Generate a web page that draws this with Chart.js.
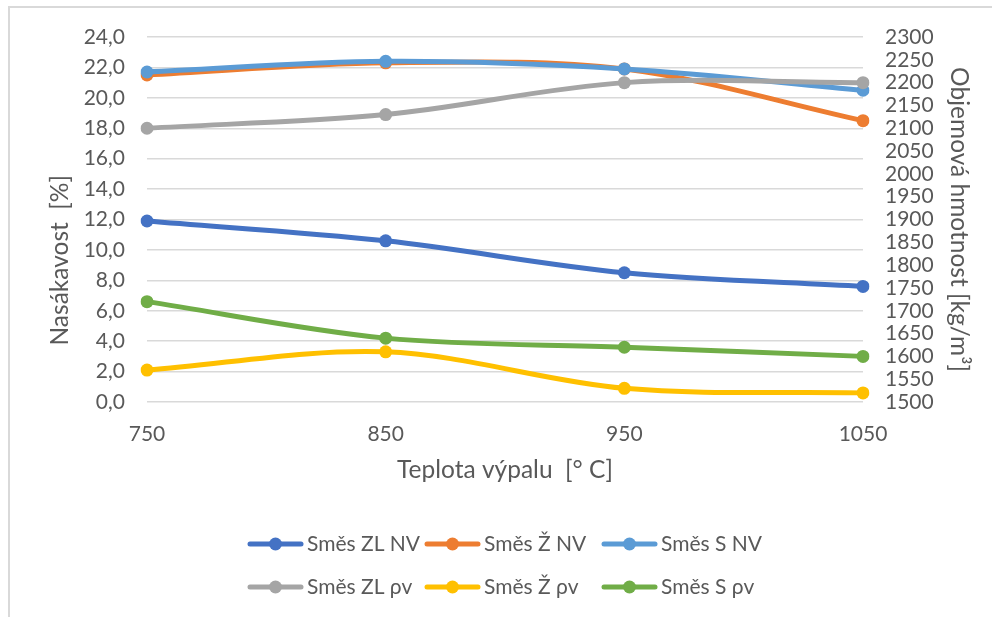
<!DOCTYPE html>
<html><head><meta charset="utf-8">
<script src="https://cdn.jsdelivr.net/npm/chart.js@4.4.1/dist/chart.umd.min.js"></script>
<style>html,body{margin:0;padding:0;background:#fff;} canvas{display:block}</style>
</head><body>
<canvas id="c" width="992" height="617"></canvas>
<script>
// ---- data ----
const temperatures = ['750', '850', '950', '1050'];
const smesZL_NV = [11.9, 10.6, 8.5, 7.6];
const smesZ_NV  = [21.5, 22.3, 21.9, 18.5];
const smesS_NV  = [21.7, 22.4, 21.9, 20.5];
const smesZL_rho = [2100, 2130, 2200, 2200];
const smesZ_rho  = [1570, 1610, 1530, 1520];
const smesS_rho  = [1720, 1640, 1620, 1600];
const seriesNames = ['Směs ZL NV', 'Směs Ž NV', 'Směs S NV', 'Směs ZL ρv', 'Směs Ž ρv', 'Směs S ρv'];
const seriesColors = ['#4472C4', '#ED7D31', '#5B9BD5', '#A5A5A5', '#FFC000', '#70AD47'];
const seriesAxes = ['yL', 'yL', 'yL', 'yR', 'yR', 'yR'];
const seriesValues = [smesZL_NV, smesZ_NV, smesS_NV, smesZL_rho, smesZ_rho, smesS_rho];
const leftTicks = {min: 0, max: 24, step: 2};
const rightTicks = {min: 1500, max: 2300, step: 50};
const xTitle = 'Teplota výpalu  [° C]';
const leftTitle = 'Nasákavost  [%]';
const rightTitle = 'Objemová hmotnost [kg/m³]';

const TXT = '#595959';
const FONT = 'Lato';
Chart.defaults.font.family = FONT;
Chart.defaults.color = TXT;

const datasets = seriesNames.map((name, i) => ({
  label: name,
  data: seriesValues[i],
  yAxisID: seriesAxes[i],
  borderColor: seriesColors[i],
  backgroundColor: seriesColors[i],
  pointBackgroundColor: seriesColors[i],
  pointBorderWidth: 0,
  pointRadius: 6.5,
  pointHoverRadius: 6.5,
  borderWidth: 5,
  tension: 0.33,
  fill: false,
  order: seriesNames.length - i
}));

const frameAndLegend = {
  id: 'frameAndLegend',
  beforeDraw(chart) {
    const ctx = chart.ctx;
    ctx.save();
    ctx.strokeStyle = '#d9d9d9';
    ctx.lineWidth = 2;
    ctx.beginPath();
    ctx.moveTo(9, 617);
    ctx.lineTo(9, 7);
    ctx.lineTo(992, 7);
    ctx.stroke();
    ctx.restore();
  },
  afterDraw(chart) {
    const ctx = chart.ctx;
    const ca = chart.chartArea;
    const cx = (ca.left + ca.right) / 2;
    const colW = 177, x0 = cx - 257;
    const rows = [544, 587];
    ctx.save();
    ctx.font = '21px ' + FONT;
    ctx.textBaseline = 'middle';
    ctx.textAlign = 'left';
    chart.data.datasets.forEach((ds, i) => {
      const x = x0 + (i % 3) * colW;
      const y = rows[Math.floor(i / 3)];
      ctx.strokeStyle = ds.borderColor;
      ctx.lineWidth = 5;
      ctx.lineCap = 'round';
      ctx.beginPath();
      ctx.moveTo(x + 2, y);
      ctx.lineTo(x + 53, y);
      ctx.stroke();
      ctx.fillStyle = ds.borderColor;
      ctx.beginPath();
      ctx.arc(x + 27.5, y, 6.5, 0, Math.PI * 2);
      ctx.fill();
      ctx.fillStyle = TXT;
      ctx.fillText(ds.label, x + 59, y);
    });
    ctx.restore();
  }
};

new Chart(document.getElementById('c'), {
  type: 'line',
  data: { labels: temperatures, datasets },
  options: {
    responsive: false,
    animation: false,
    events: [],
    layout: { padding: { left: 0, right: 0, top: 37, bottom: 125 } },
    plugins: { legend: { display: false }, tooltip: { enabled: false } },
    scales: {
      x: {
        type: 'category',
        offset: false,
        grid: { display: false, drawTicks: false },
        border: { display: false },
        ticks: { padding: 20, font: { size: 21 }, color: TXT, maxRotation: 0, autoSkip: false },
        title: { display: true, text: xTitle, font: { size: 24.5 }, color: TXT, padding: { top: 0, bottom: 7 } },
        afterFit(s) { s.height = 90; }
      },
      yL: {
        position: 'left',
        min: leftTicks.min, max: leftTicks.max,
        grid: { color: '#d9d9d9', lineWidth: 1.5, drawTicks: false },
        border: { display: false },
        ticks: { stepSize: leftTicks.step, padding: 22, font: { size: 21 }, color: TXT, autoSkip: false,
          callback: v => v.toFixed(1).replace('.', ',') },
        title: { display: true, text: leftTitle + '             ', font: { size: 24.5 }, color: TXT, padding: { top: 45, bottom: 0 } },
        afterFit(s) { s.width = 147; }
      },
      yR: {
        position: 'right',
        min: rightTicks.min, max: rightTicks.max,
        grid: { display: false, drawTicks: false },
        border: { display: false },
        ticks: { stepSize: rightTicks.step, padding: 22, font: { size: 21 }, color: TXT, autoSkip: false,
          callback: v => String(v) },
        title: { display: true, text: rightTitle, font: { size: 24.5 }, color: TXT, padding: { top: 18, bottom: 0 } },
        afterFit(s) { s.width = 129; }
      }
    }
  },
  plugins: [frameAndLegend]
});
</script>
</body></html>
